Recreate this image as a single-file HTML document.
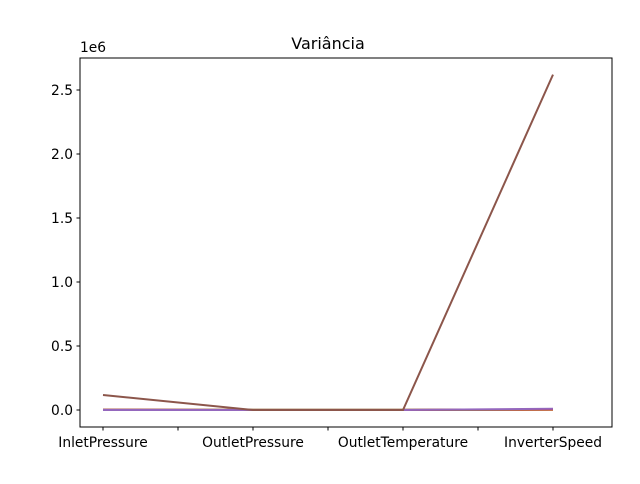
<!DOCTYPE html>
<html><head><meta charset="utf-8"><style>
body{margin:0;background:#fff;font-family:"DejaVu Sans","Liberation Sans",sans-serif}
svg text{font-family:"DejaVu Sans","Liberation Sans",sans-serif}
</style></head><body>
<svg id="chart" width="640" height="480" xmlns="http://www.w3.org/2000/svg">
<rect width="640" height="480" fill="#fff"/>
<g id="marks"></g>
<rect x="80" y="58" width="532" height="369" fill="none" stroke="#000" stroke-width="1"/>
<g id="axes" font-size="13.8" fill="#000"></g>
<text x="328" y="49" font-size="16" text-anchor="middle">Variância</text>
<text x="80" y="52" font-size="13.8">1e6</text>
</svg>
<script>
const categories=["InletPressure","OutletPressure","OutletTemperature","InverterSpeed"];
const s0=[0.002,0.001,0.001,0.003];
const s1=[0.001,0.001,0.001,0.002];
const s2=[0.001,0.001,0.001,0.004];
const s3=[0.002,0.001,0.001,0.005];
const s4=[0.0,0.0,0.0,0.01];
const s5=[0.117,0.0,0.0,2.62];
const yTicks=[0,0.5,1.0,1.5,2.0,2.5];
const yTickLabels=["0.0","0.5","1.0","1.5","2.0","2.5"];
const series=[s0,s1,s2,s3,s4,s5];
const colors=["#1f77b4","#ff7f0e","#2ca02c","#d62728","#9467bd","#8c564b"];
const NS="http://www.w3.org/2000/svg";
function xs(i){return 103+i*150;}
function ys(v){return 410-v*128;}
const marks=document.getElementById('marks'),axes=document.getElementById('axes');
series.forEach((s,k)=>{
 const p=document.createElementNS(NS,'polyline');
 p.setAttribute('points',s.map((v,i)=>xs(i)+','+ys(v)).join(' '));
 p.setAttribute('fill','none');p.setAttribute('stroke',colors[k]);p.setAttribute('stroke-width','2');
 
 
 marks.appendChild(p);
});
yTicks.forEach((v,i)=>{
 const y=ys(v);
 const l=document.createElementNS(NS,'line');
 l.setAttribute('x1',76.5);l.setAttribute('x2',80);l.setAttribute('y1',y);l.setAttribute('y2',y);l.setAttribute('stroke','#000');
 
 
 axes.appendChild(l);
 const t=document.createElementNS(NS,'text');
 t.setAttribute('x',73);t.setAttribute('y',y+5);t.setAttribute('text-anchor','end');t.textContent=yTickLabels[i];
 
 
 axes.appendChild(t);
});
for(let j=0;j<=6;j++){
 const x=xs(j/2);
 const l=document.createElementNS(NS,'line');
 l.setAttribute('x1',x);l.setAttribute('x2',x);l.setAttribute('y1',427);l.setAttribute('y2',430.5);l.setAttribute('stroke','#000');
 
 
 axes.appendChild(l);
}
categories.forEach((c,i)=>{
 const t=document.createElementNS(NS,'text');
 t.setAttribute('x',xs(i));t.setAttribute('y',447);t.setAttribute('text-anchor','middle');t.textContent=c;
 
 
 axes.appendChild(t);
});
</script>
</body></html>
